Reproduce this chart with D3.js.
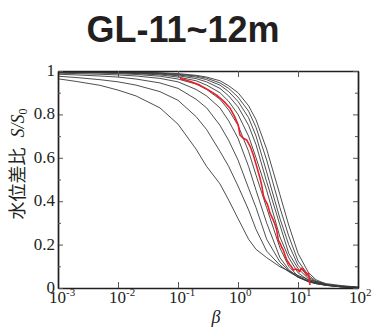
<!DOCTYPE html>
<html>
<head>
<meta charset="utf-8">
<script src="https://cdn.jsdelivr.net/npm/d3@7"></script>
<style>
body { margin: 0; background: #fff; }
svg { display: block; }
</style>
</head>
<body>
<div id="container"><svg></svg></div>
<script>
let width = 373;
let height = 329;

let titleText = 'GL-11~12m';

// beta values shared by the type curves
let betaGrid = [0.001, 0.002, 0.005, 0.01, 0.02, 0.05, 0.1, 0.2, 0.3, 0.5, 0.7, 1, 1.5, 2, 3, 5, 7, 10, 15, 20, 30, 50, 100];

// S/S0 of each type curve
let curve1 = [0.964, 0.952, 0.934, 0.912, 0.885, 0.83, 0.755, 0.64, 0.56, 0.48, 0.405, 0.32, 0.225, 0.178, 0.14, 0.098, 0.078, 0.058, 0.038, 0.03, 0.02, 0.012, 0.004];
let curve2 = [0.976, 0.97, 0.96, 0.95, 0.935, 0.905, 0.865, 0.79, 0.73, 0.63, 0.56, 0.47, 0.36, 0.27, 0.17, 0.105, 0.075, 0.05, 0.032, 0.024, 0.015, 0.009, 0.003];
let curve3 = [0.985, 0.982, 0.977, 0.972, 0.963, 0.945, 0.92, 0.87, 0.83, 0.75, 0.68, 0.59, 0.46, 0.37, 0.225, 0.12, 0.08, 0.05, 0.03, 0.022, 0.014, 0.008, 0.003];
let curve4 = [0.99, 0.988, 0.985, 0.982, 0.977, 0.966, 0.95, 0.915, 0.885, 0.83, 0.77, 0.69, 0.56, 0.45, 0.3, 0.14, 0.085, 0.05, 0.028, 0.02, 0.012, 0.007, 0.002];
let curve5 = [0.993, 0.992, 0.99, 0.988, 0.984, 0.976, 0.963, 0.94, 0.915, 0.87, 0.82, 0.75, 0.63, 0.52, 0.37, 0.185, 0.1, 0.055, 0.03, 0.02, 0.012, 0.006, 0.002];
let curve6 = [0.995, 0.994, 0.993, 0.991, 0.988, 0.982, 0.972, 0.955, 0.935, 0.9, 0.86, 0.8, 0.7, 0.6, 0.45, 0.235, 0.14, 0.07, 0.035, 0.022, 0.012, 0.006, 0.002];
let curve7 = [0.996, 0.995, 0.994, 0.993, 0.99, 0.986, 0.978, 0.965, 0.95, 0.92, 0.885, 0.835, 0.75, 0.66, 0.49, 0.29, 0.16, 0.09, 0.042, 0.025, 0.013, 0.006, 0.002];
let curve8 = [0.997, 0.996, 0.995, 0.994, 0.992, 0.988, 0.982, 0.972, 0.96, 0.935, 0.905, 0.86, 0.785, 0.7, 0.535, 0.32, 0.2, 0.105, 0.05, 0.028, 0.014, 0.006, 0.002];
let curve9 = [0.998, 0.997, 0.996, 0.995, 0.993, 0.99, 0.985, 0.977, 0.967, 0.945, 0.92, 0.88, 0.815, 0.74, 0.59, 0.37, 0.24, 0.125, 0.058, 0.032, 0.015, 0.006, 0.002];
let curve10 = [0.998, 0.998, 0.997, 0.996, 0.995, 0.992, 0.988, 0.98, 0.972, 0.955, 0.932, 0.9, 0.84, 0.775, 0.64, 0.43, 0.29, 0.16, 0.07, 0.038, 0.017, 0.007, 0.002];
let curves = [curve1, curve2, curve3, curve4, curve5, curve6, curve7, curve8, curve9, curve10];

// observed record (red)
let obsBeta = [0.108, 0.16, 0.23, 0.32, 0.44, 0.58, 0.74, 0.88, 1.01, 1.08, 1.22, 1.4, 1.6, 1.8, 2.05, 2.33, 2.5, 2.64, 2.82, 3.1, 3.2, 3.41, 3.87, 4.1, 4.42, 4.7, 5.01, 5.3, 5.69, 6.1, 6.49, 7.36, 7.8, 8.36, 9.2, 10.1, 10.6, 11.5, 12.4, 14.0, 14.9, 15.4, 15.8];
let obsS = [0.966, 0.952, 0.935, 0.913, 0.889, 0.86, 0.828, 0.79, 0.751, 0.705, 0.69, 0.682, 0.652, 0.613, 0.56, 0.506, 0.47, 0.429, 0.406, 0.385, 0.372, 0.346, 0.313, 0.296, 0.267, 0.221, 0.207, 0.19, 0.175, 0.15, 0.129, 0.106, 0.098, 0.083, 0.088, 0.083, 0.075, 0.091, 0.082, 0.06, 0.069, 0.045, 0.014];

let xTicks = [0.001, 0.01, 0.1, 1, 10, 100];
let xTickExp = ['-3', '-2', '-1', '0', '1', '2'];
let yTicks = [0, 0.2, 0.4, 0.6, 0.8, 1];
let yTickLabels = ['0', '0.2', '0.4', '0.6', '0.8', '1'];
let yMinorTicks = [0.1, 0.3, 0.5, 0.7, 0.9];

let serif = "'Liberation Serif', 'Times New Roman', Times, serif";
let ink = '#231f20';

function draw_main() {
    let padding = { 'left': 58, 'right': 15, 'top': 71, 'bottom': 41 };
    let svg = d3.select('#container')
        .select('svg')
        .attr('width', width)
        .attr('height', height);

    let x = d3.scaleLog()
        .domain([1e-3, 1e2])
        .range([padding.left, width - padding.right]);
    let y = d3.scaleLinear()
        .domain([0, 1])
        .range([height - padding.bottom, padding.top]);

    // title
    svg.append('text')
        .attr('x', 183)
        .attr('y', 42)
        .attr('text-anchor', 'middle')
        .attr('font-family', "'Liberation Sans', Arial, sans-serif")
        .attr('font-weight', 'bold')
        .attr('font-size', 36)
        .attr('fill', ink)
        .text(titleText);

    svg.append('clipPath')
        .attr('id', 'plotclip')
        .append('rect')
        .attr('x', padding.left)
        .attr('y', padding.top)
        .attr('width', width - padding.left - padding.right)
        .attr('height', height - padding.top - padding.bottom);

    // type curves
    let line = d3.line()
        .x(d => x(d[0]))
        .y(d => y(d[1]));
    let plot = svg.append('g').attr('clip-path', 'url(#plotclip)');
    plot.selectAll('.curve')
        .data(curves)
        .enter().append('path')
        .attr('class', 'curve')
        .attr('d', s => line(betaGrid.map((b, i) => [b, s[i]])))
        .attr('fill', 'none')
        .attr('stroke', '#3a3a3a')
        .attr('stroke-width', 0.9);

    plot.append('path')
        .attr('d', line(obsBeta.map((b, i) => [b, obsS[i]])))
        .attr('fill', 'none')
        .attr('stroke', '#ee1c24')
        .attr('stroke-width', 1.6)
        .attr('stroke-linejoin', 'round');

    // axes, ticks pointing inward
    let xb = svg.append('g')
        .attr('transform', `translate(0, ${y(0)})`)
        .call(d3.axisBottom(x).tickValues(xTicks).tickSize(-6).tickSizeOuter(0).tickFormat(''));
    let xt = svg.append('g')
        .attr('transform', `translate(0, ${y(1)})`)
        .call(d3.axisTop(x).tickValues(xTicks).tickSize(-6).tickSizeOuter(0).tickFormat(''));
    let yl = svg.append('g')
        .attr('transform', `translate(${x(1e-3)}, 0)`)
        .call(d3.axisLeft(y).tickValues(yTicks).tickSize(-5).tickSizeOuter(0).tickFormat(''));
    let yr = svg.append('g')
        .attr('transform', `translate(${x(1e2)}, 0)`)
        .call(d3.axisRight(y).tickValues(yTicks).tickSize(-5).tickSizeOuter(0).tickFormat(''));
    let ylm = svg.append('g')
        .attr('transform', `translate(${x(1e-3)}, 0)`)
        .call(d3.axisLeft(y).tickValues(yMinorTicks).tickSize(-3).tickSizeOuter(0).tickFormat(''));
    let yrm = svg.append('g')
        .attr('transform', `translate(${x(1e2)}, 0)`)
        .call(d3.axisRight(y).tickValues(yMinorTicks).tickSize(-3).tickSizeOuter(0).tickFormat(''));
    [xb, xt, yl, yr, ylm, yrm].forEach(g => {
        g.selectAll('line').attr('stroke', '#555').attr('stroke-width', 1);
        g.select('.domain').attr('stroke', ink).attr('stroke-width', 1.4);
    });

    // x tick labels 10^n
    let xlab = svg.append('g')
        .selectAll('text')
        .data(xTicks)
        .enter().append('text')
        .attr('x', d => x(d) - 9)
        .attr('y', 303)
        .attr('font-family', serif)
        .attr('font-size', 17)
        .attr('fill', ink);
    xlab.append('tspan').text('10');
    xlab.append('tspan')
        .attr('dy', -6.6)
        .attr('font-size', 11)
        .text((d, i) => xTickExp[i]);

    // y tick labels
    svg.append('g')
        .selectAll('text')
        .data(yTicks)
        .enter().append('text')
        .attr('x', 55)
        .attr('y', d => y(d) + 5)
        .attr('text-anchor', 'end')
        .attr('font-family', serif)
        .attr('font-size', 17)
        .attr('fill', ink)
        .text((d, i) => yTickLabels[i]);

    // axis labels
    svg.append('text')
        .attr('x', 216)
        .attr('y', 323)
        .attr('text-anchor', 'middle')
        .attr('font-family', serif)
        .attr('font-style', 'italic')
        .attr('font-size', 18)
        .attr('fill', ink)
        .text('β');

    let ylabel = svg.append('text')
        .attr('transform', 'translate(24, 164) rotate(-90)')
        .attr('text-anchor', 'middle')
        .attr('fill', ink);
    ylabel.append('tspan')
        .attr('font-family', "'Noto Sans CJK JP', sans-serif")
        .attr('font-size', 18)
        .text('水位差比');
    ylabel.append('tspan')
        .attr('font-family', serif)
        .attr('font-style', 'italic')
        .attr('font-size', 18)
        .attr('dx', 10)
        .text('S/S');
    ylabel.append('tspan')
        .attr('font-family', serif)
        .attr('font-size', 12)
        .attr('dy', 3)
        .text('0');
}

draw_main();
</script>
</body>
</html>
